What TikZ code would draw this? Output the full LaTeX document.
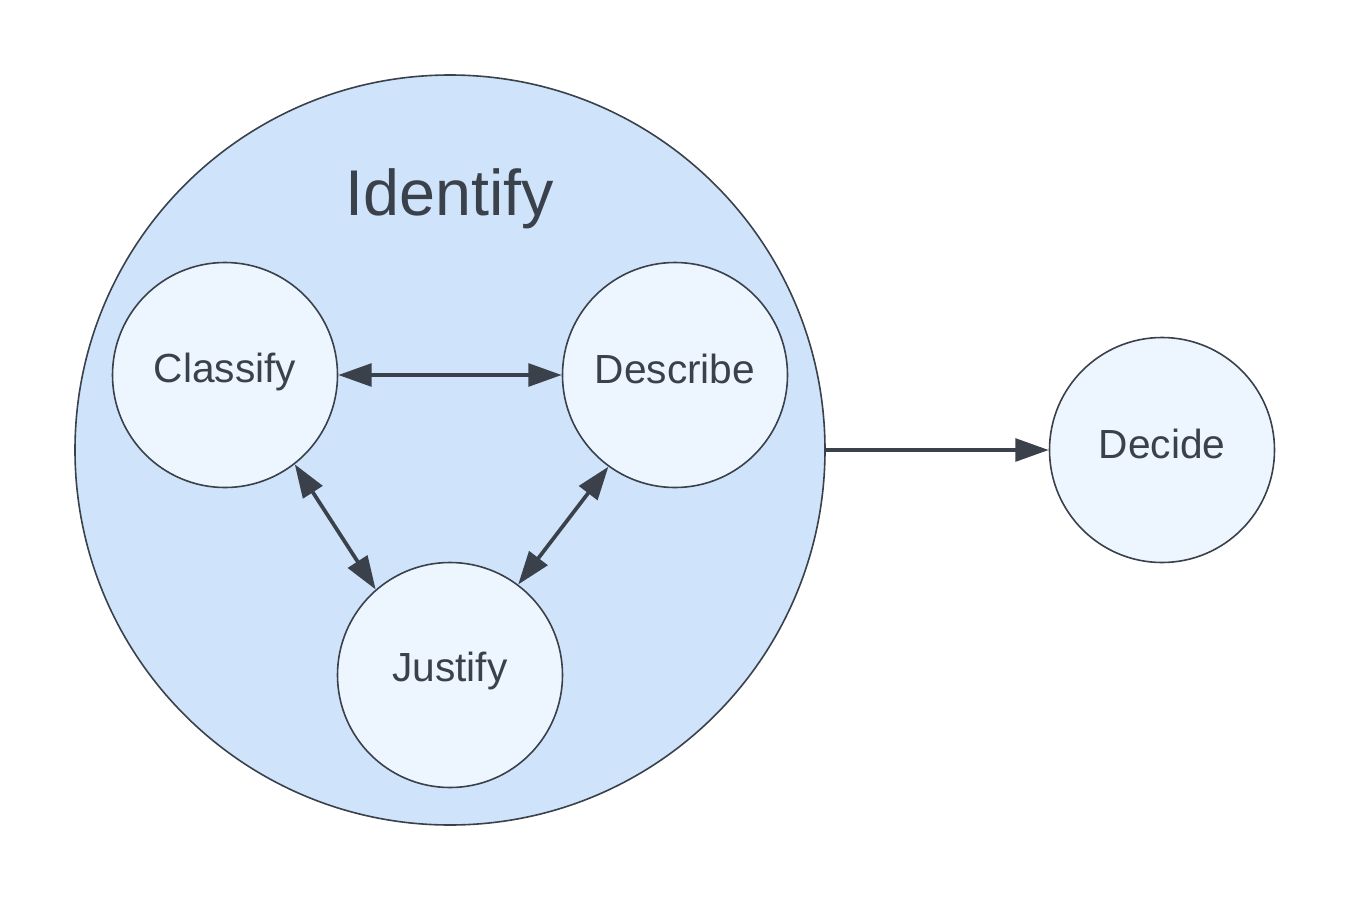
\documentclass[tikz,border=0pt]{standalone}
\usepackage{fontspec}
\setmainfont{Liberation Sans}
\usetikzlibrary{arrows.meta}
\definecolor{edge}{HTML}{3A414A}
\definecolor{bigfill}{HTML}{CFE3FB}
\definecolor{smallfill}{HTML}{EDF5FE}
\begin{document}
\begin{tikzpicture}[x=0.75pt,y=-0.75pt,
  bigcirc/.style={circle,draw=edge,line width=1.2pt,fill=bigfill,minimum size=562.5pt,inner sep=0pt},
  smallcirc/.style={circle,draw=edge,line width=1.2pt,fill=smallfill,minimum size=168.75pt,inner sep=0pt},
  lbl/.style={text=edge,font=\fontsize{30.5pt}{36pt}\selectfont,inner sep=0pt},
  conn/.style={draw=edge,line width=2.8pt,-{Triangle[length=25pt,width=17pt]}},
  bconn/.style={draw=edge,line width=2.8pt,{Triangle[length=25pt,width=17pt]}-{Triangle[length=25pt,width=17pt]}}
]
\useasboundingbox (0,0) rectangle (1350,900);
\node[bigcirc] (identify) at (450,450) {};
\node[smallcirc] (classify) at (225,375) {};
\node[smallcirc] (describe) at (675,375) {};
\node[smallcirc] (justify) at (450,675) {};
\node[smallcirc] (decide) at (1162,450) {};
\node[lbl,font=\fontsize{48.5pt}{58pt}\selectfont] (tid) at (450,199) {Identify};
\node[lbl] (tcl) at (225,372) {Classify};
\node[lbl] (tde) at (675,369) {Describe};
\node[lbl] (tju) at (450,671) {Justify};
\node[lbl] (tdc) at (1162,444) {Decide};
\draw[bconn] (classify.east) -- (describe.west);
\draw[bconn] (classify.-52.7) -- (justify.131.5);
\draw[bconn] (describe.-126.9) -- (justify.53.4);
\draw[conn] (identify.east) -- (decide.west);
\end{tikzpicture}
\end{document}
